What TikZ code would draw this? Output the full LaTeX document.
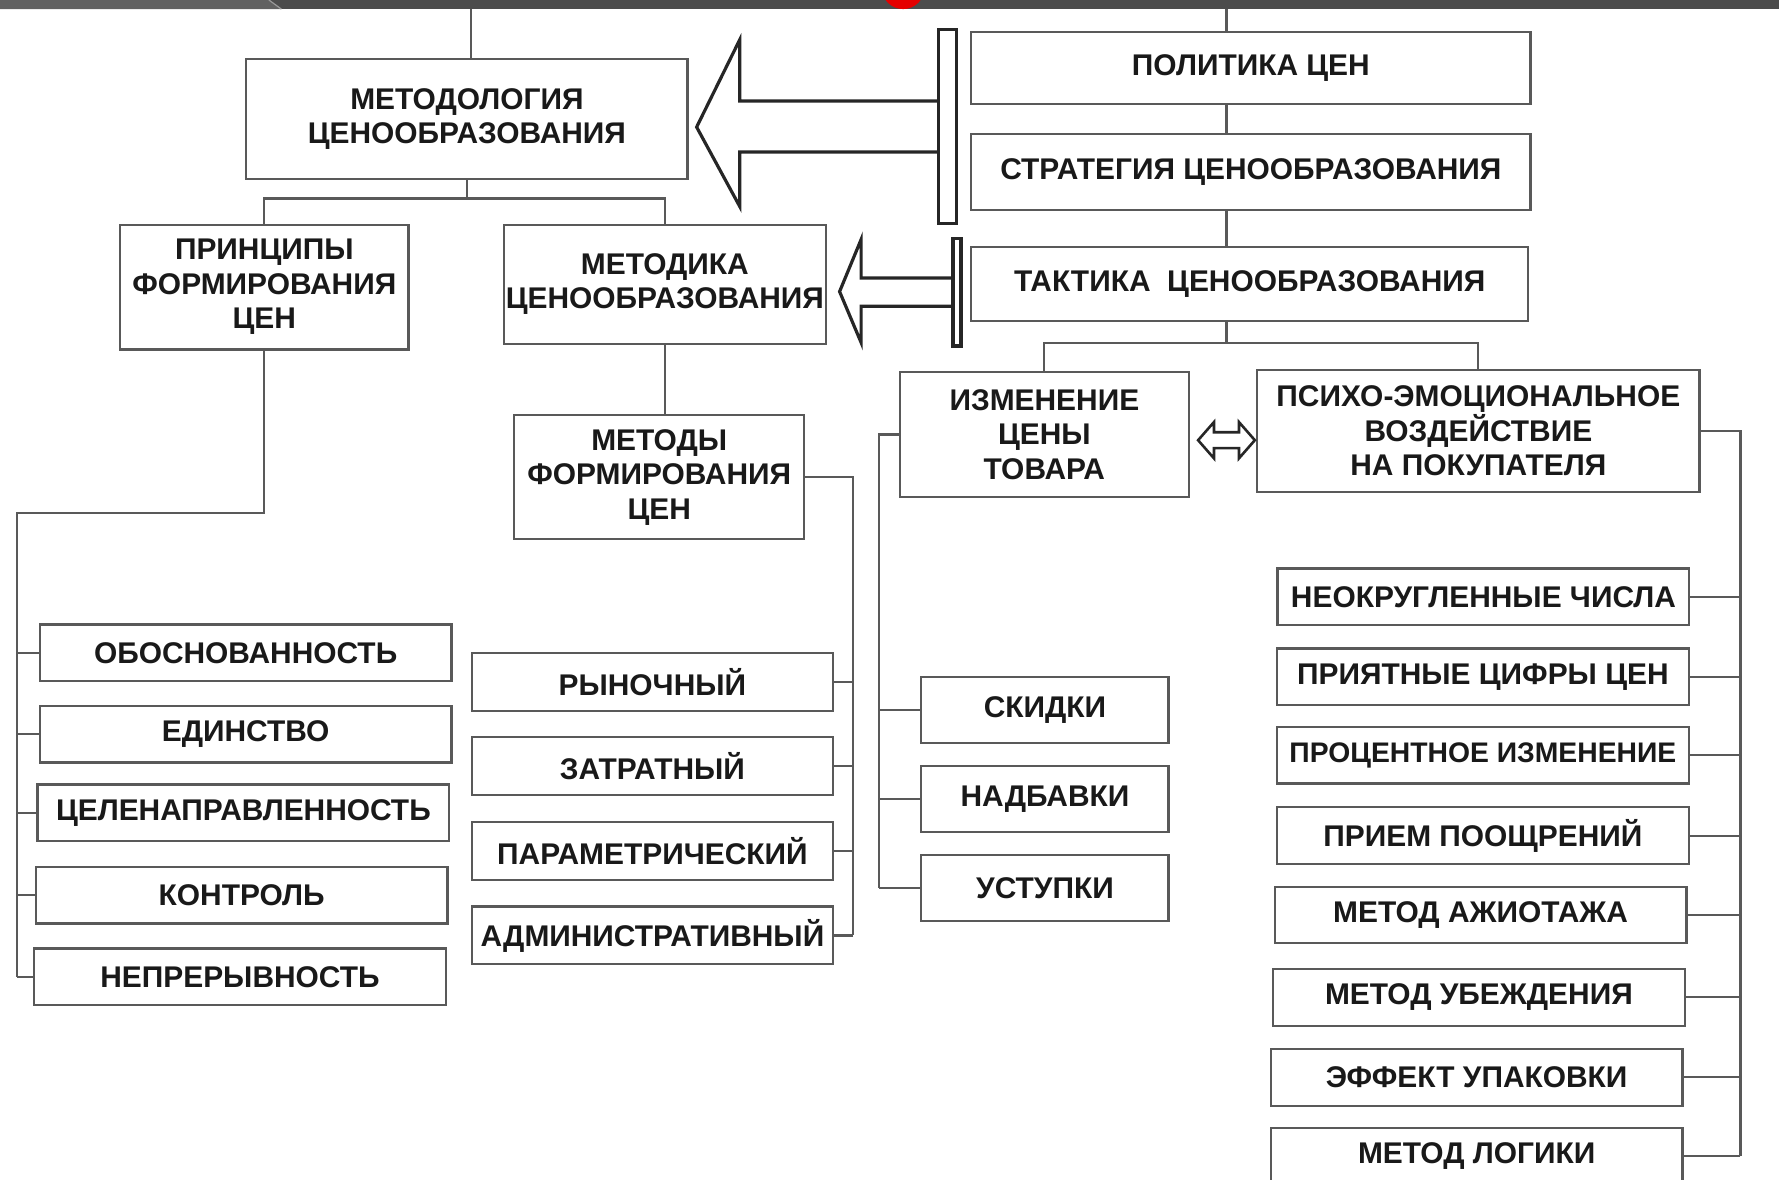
\documentclass[tikz,border=0pt]{standalone}
\usepackage{fontspec}
\setmainfont{Liberation Sans}
\usepackage{tikz}

\tikzset{
  kasten/.style={draw=black!65, line width=1.1pt, fill=white, align=center,
    inner sep=0pt, text=black!90, font=\bfseries\fontsize{15}{17.3}\selectfont},
  kleinbox/.style={kasten, minimum width=7.26cm, minimum height=1cm},
  methodbox/.style={kasten, minimum width=6.36cm, minimum height=1.02cm},
  aenderbox/.style={kasten, minimum width=4.36cm, minimum height=1.16cm},
  linie/.style={draw=black!65, line width=1.1pt},
  hohlpfeil/.style={draw=black!85, line width=1.6pt, fill=white, line join=miter}
}

\begin{document}
\begin{tikzpicture}[x=0.02cm, y=-0.02cm]
	% Bildrahmen
	\useasboundingbox (0,0) rectangle (1568,1040);
	
	% Leiste oben
	\fill[black!70] (0,0) rectangle (1568,8);
	\fill[black!62] (0,0) -- (237,0) -- (248,8) -- (0,8) -- cycle;
	\draw[black!40, line width=0.6pt] (237,0) -- (248,8);
	\begin{scope}
		\clip (0,0) rectangle (1568,8);
		\fill[red!90!black] (796,-11) circle (19);
	\end{scope}
	
	% Knoten oben
	\node[kasten, minimum width=7.78cm, minimum height=2.12cm] (metodologia) at (411.5,105) {МЕТОДОЛОГИЯ\\ЦЕНООБРАЗОВАНИЯ};
	\node[kasten, minimum width=9.86cm, minimum height=1.28cm] (politika) at (1102.5,60) {ПОЛИТИКА ЦЕН};
	\node[kasten, minimum width=9.86cm, minimum height=1.34cm] (strategia) at (1102.5,151.5) {СТРАТЕГИЯ ЦЕНООБРАЗОВАНИЯ};
	\node[kasten, minimum width=9.82cm, minimum height=1.3cm] (taktika) at (1101.5,250.5) {ТАКТИКА~ ЦЕНООБРАЗОВАНИЯ};
	\node[kasten, minimum width=5.08cm, minimum height=2.2cm] (principy) at (233,253) {ПРИНЦИПЫ\\ФОРМИРОВАНИЯ\\ЦЕН};
	\node[kasten, minimum width=5.68cm, minimum height=2.1cm] (metodika) at (586,250.5) {МЕТОДИКА\\ЦЕНООБРАЗОВАНИЯ};
	\node[kasten, minimum width=5.12cm, minimum height=2.18cm] (metody) at (581,420.5) {МЕТОДЫ\\ФОРМИРОВАНИЯ\\ЦЕН};
	\node[kasten, minimum width=5.1cm, minimum height=2.2cm] (izmenenie) at (920.5,383) {ИЗМЕНЕНИЕ\\ЦЕНЫ\\ТОВАРА};
	\node[kasten, minimum width=7.8cm, minimum height=2.16cm] (psiho) at (1303,380) {ПСИХО-ЭМОЦИОНАЛЬНОЕ\\ВОЗДЕЙСТВИЕ\\НА ПОКУПАТЕЛЯ};
	
	% Prinzipien
	\node[kleinbox] (obosn) at (216.5,575.5) {ОБОСНОВАННОСТЬ};
	\node[kleinbox] (edinstvo) at (216.5,647) {ЕДИНСТВО};
	\node[kleinbox] (celenapr) at (214.5,716.5) {ЦЕЛЕНАПРАВЛЕННОСТЬ};
	\node[kleinbox] (kontrol) at (213,789) {КОНТРОЛЬ};
	\node[kleinbox] (nepreryv) at (211.5,861) {НЕПРЕРЫВНОСТЬ};
	
	% Methoden
	\node[methodbox] (rynoch) at (575,601) {РЫНОЧНЫЙ};
	\node[methodbox] (zatrat) at (575,675) {ЗАТРАТНЫЙ};
	\node[methodbox] (parametr) at (575,750) {ПАРАМЕТРИЧЕСКИЙ};
	\node[methodbox] (admin) at (575,824.5) {АДМИНИСТРАТИВНЫЙ};
	
	% Preisaenderung
	\node[aenderbox] (skidki) at (921,626) {СКИДКИ};
	\node[aenderbox] (nadbavki) at (921,704) {НАДБАВКИ};
	\node[aenderbox] (ustupki) at (921,782.5) {УСТУПКИ};
	
	% Psychologie
	\node[kleinbox] (neokr) at (1307.5,526) {НЕОКРУГЛЕННЫЕ ЧИСЛА};
	\node[kleinbox] (priyat) at (1307,596.5) {ПРИЯТНЫЕ ЦИФРЫ ЦЕН};
	\node[kleinbox, font=\bfseries\fontsize{14.2}{17}\selectfont] (procent) at (1307,665.5) {ПРОЦЕНТНОЕ ИЗМЕНЕНИЕ};
	\node[kleinbox] (priem) at (1307,736.5) {ПРИЕМ ПООЩРЕНИЙ};
	\node[kleinbox] (azhiot) at (1305,806.5) {МЕТОД АЖИОТАЖА};
	\node[kleinbox] (ubezhd) at (1303.5,879) {МЕТОД УБЕЖДЕНИЯ};
	\node[kleinbox] (effekt) at (1301.5,949.5) {ЭФФЕКТ УПАКОВКИ};
	\node[kleinbox] (logiki) at (1301.5,1019) {МЕТОД ЛОГИКИ};
	
	% Hilfspunkte
	\coordinate (topL) at (415,8);
	\coordinate (topR) at (1081,8);
	\coordinate (brA) at (0,175);
	\coordinate (brB) at (0,302);
	\coordinate (busL) at (15,452);
	\coordinate (busM) at (752,0);
	\coordinate (busI) at (775,0);
	\coordinate (busP) at (1534,0);
	
	% Verbindungen oben
	\draw[linie] (topL) -- (topL |- metodologia.north);
	\draw[linie] (topR) -- (topR |- politika.north);
	\draw[linie] (topR |- politika.south) -- (topR |- strategia.north);
	\draw[linie] (topR |- strategia.south) -- (topR |- taktika.north);
	\draw[linie] (metodologia.south) -- (metodologia.south |- brA);
	\draw[linie] (principy.north) -- (principy.north |- brA) -- (metodika.north |- brA) -- (metodika.north);
	\draw[linie] (metodika.south) -- (metodika.south |- metody.north);
	\draw[linie] (topR |- taktika.south) -- (topR |- brB);
	\draw[linie] (izmenenie.north) -- (izmenenie.north |- brB) -- (psiho.north |- brB) -- (psiho.north);
	
	% Sammelschienen
	\draw[linie] (principy.south) |- (busL) -- (busL |- nepreryv.west);
	\foreach \n in {obosn,edinstvo,celenapr,kontrol,nepreryv}
		\draw[linie] (busL |- \n.west) -- (\n.west);
	\draw[linie] (metody.east) -| (busM |- admin.east);
	\foreach \n in {rynoch,zatrat,parametr,admin}
		\draw[linie] (busM |- \n.east) -- (\n.east);
	\draw[linie] (izmenenie.west) -| (busI |- ustupki.west);
	\foreach \n in {skidki,nadbavki,ustupki}
		\draw[linie] (busI |- \n.west) -- (\n.west);
	\draw[linie] (psiho.east) -| (busP |- logiki.east);
	\foreach \n in {neokr,priyat,procent,priem,azhiot,ubezhd,effekt,logiki}
		\draw[linie] (busP |- \n.east) -- (\n.east);
	
	% Hohlpfeile
	\draw[hohlpfeil] (827,89) -- (652,89) -- (652,35) -- (614,112) -- (652,182) -- (652,134) -- (827,134);
	\draw[hohlpfeil] (827,26) rectangle (843,197);
	\draw[hohlpfeil] (840,245) -- (759,245) -- (759,211) -- (740,257) -- (759,302) -- (759,270) -- (840,270);
	\draw[hohlpfeil] (840,210) rectangle (847,305);
	\draw[hohlpfeil, line width=1.3pt] (1056,388) -- (1070,372) -- (1070,381) -- (1092,381) -- (1092,372)
		-- (1106,388) -- (1092,404) -- (1092,395) -- (1070,395) -- (1070,404) -- cycle;
\end{tikzpicture}
\end{document}
